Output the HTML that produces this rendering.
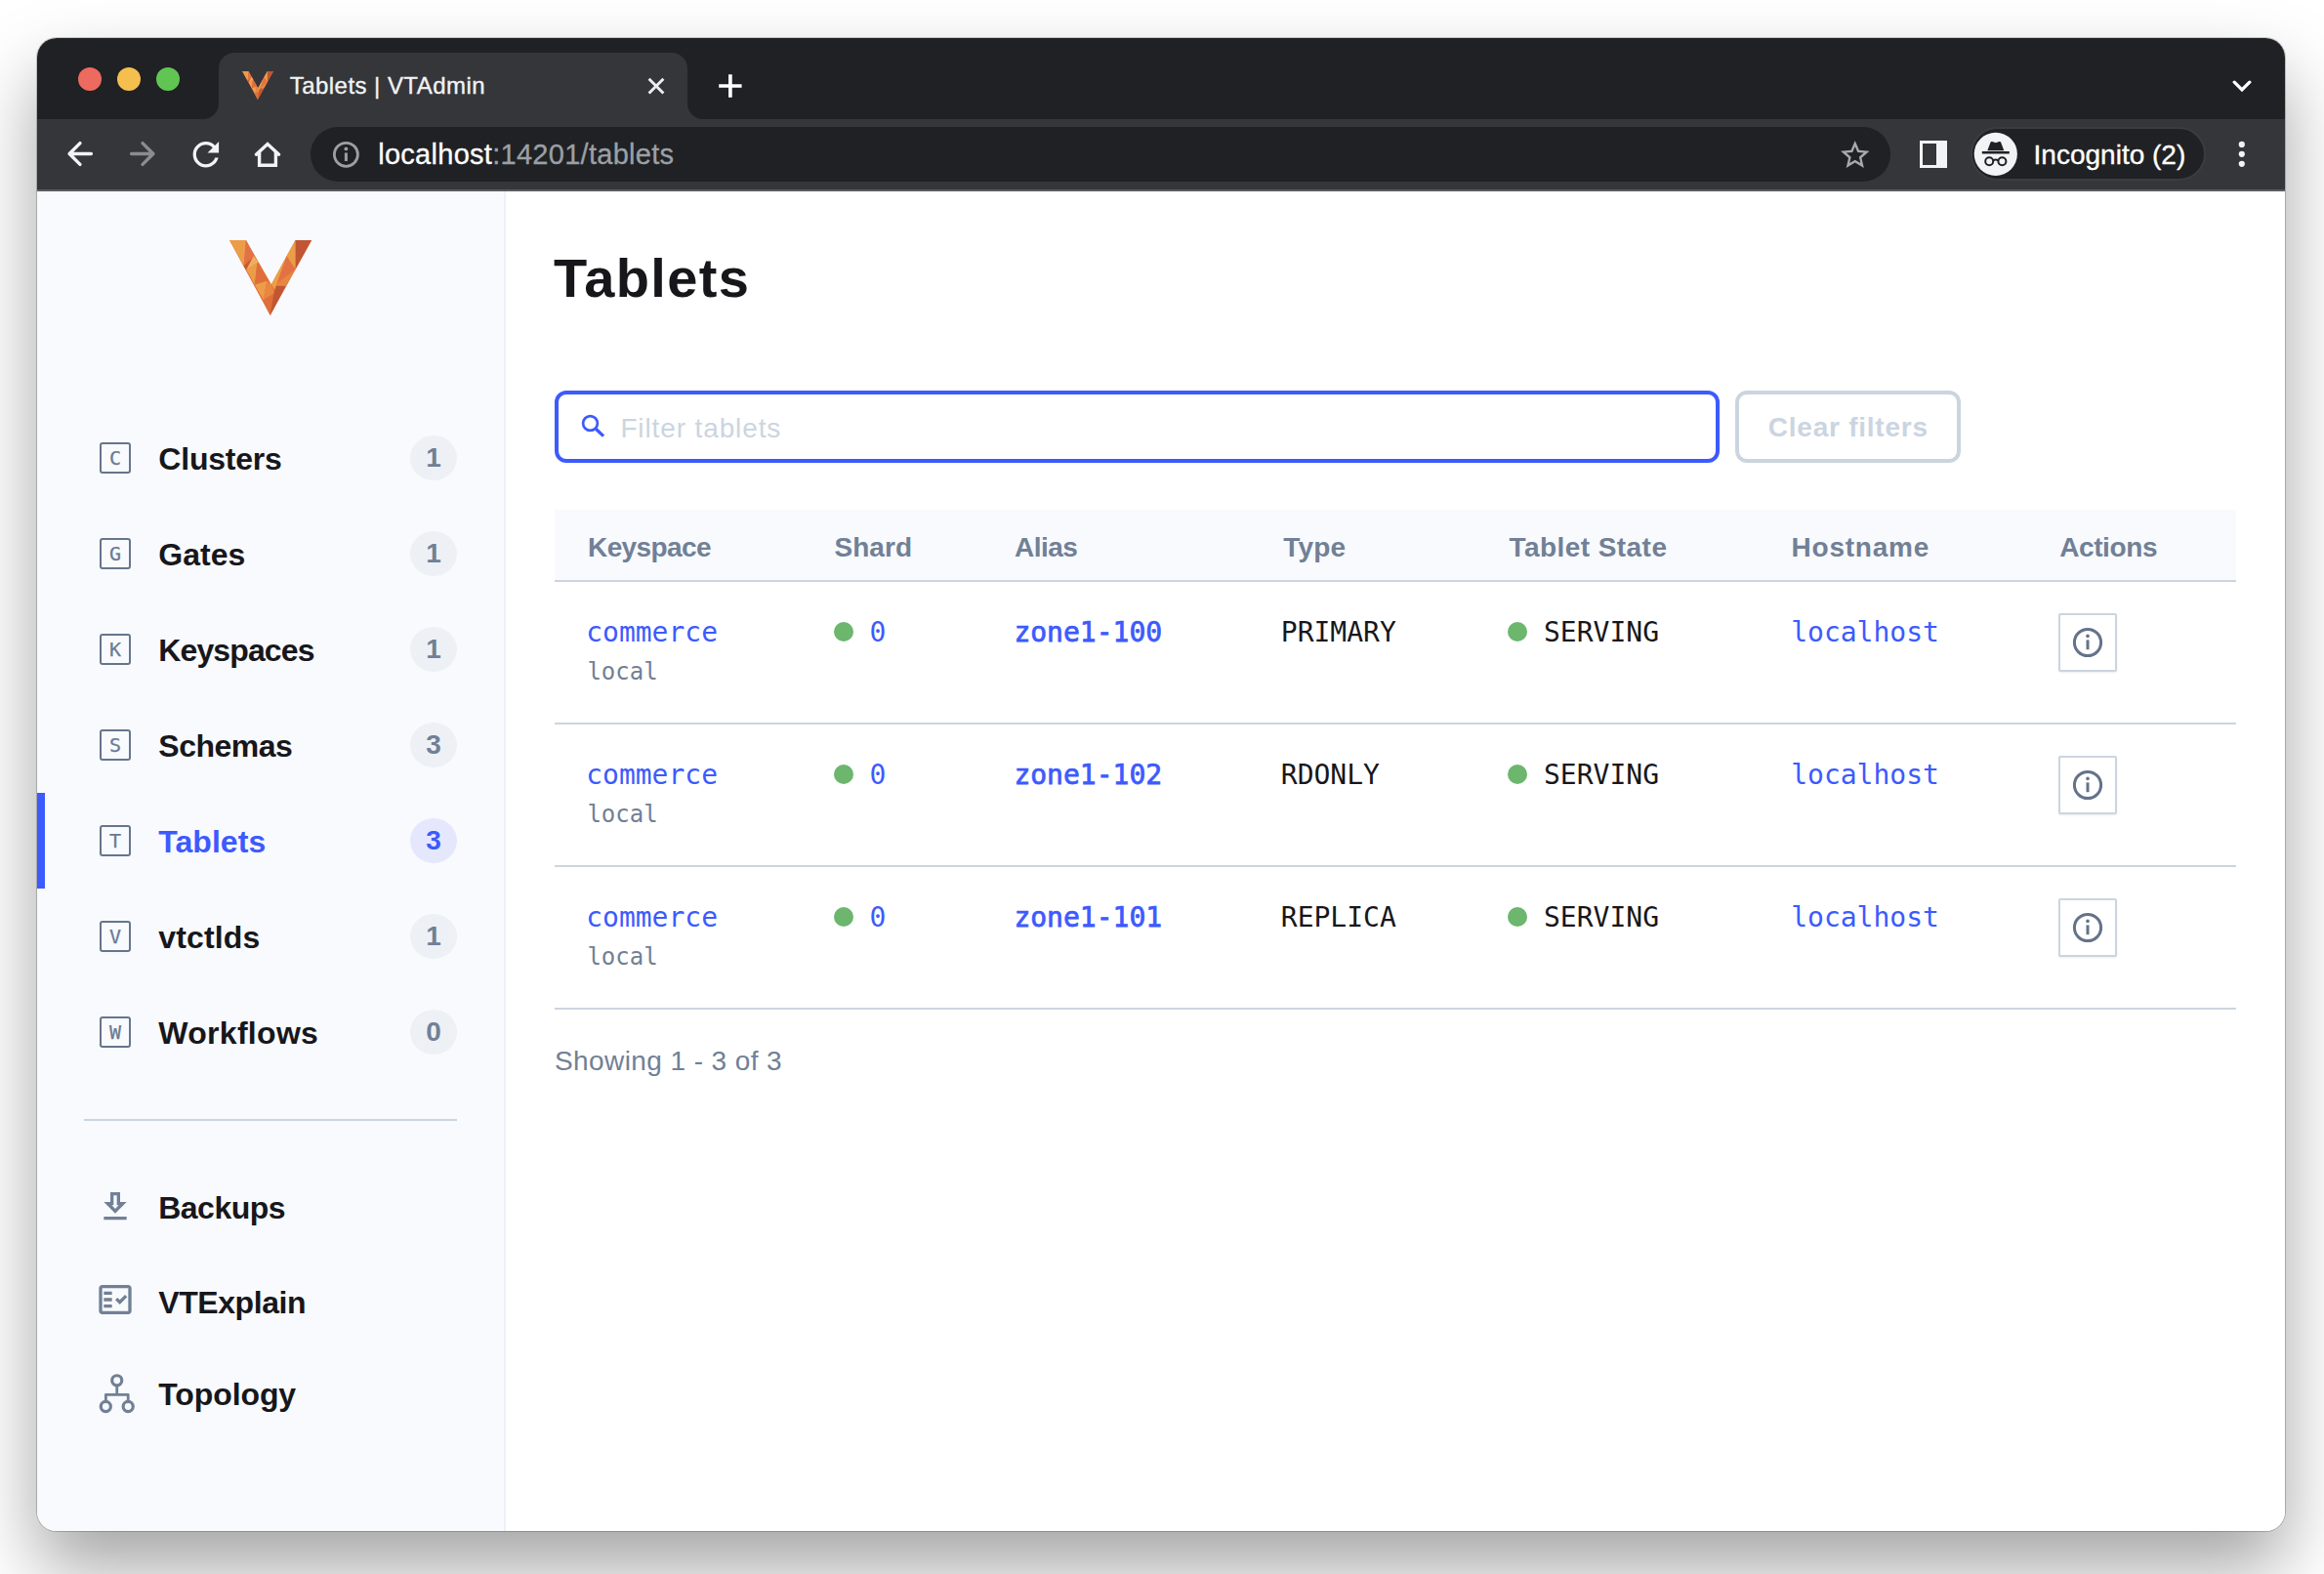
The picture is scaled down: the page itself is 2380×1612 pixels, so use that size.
<!DOCTYPE html>
<html lang="en">
<head>
<meta charset="utf-8">
<title>Tablets | VTAdmin</title>
<style>
*{box-sizing:border-box;margin:0;padding:0}
html,body{width:2380px;height:1612px;overflow:hidden;background:#fff}
body{position:relative;font-family:"Liberation Sans",sans-serif;color:#17171b}
.abs{position:absolute}
.t{position:absolute;white-space:nowrap;line-height:1}
#win{position:absolute;left:38px;top:39px;width:2302px;height:1529px;border-radius:20px;background:#fff;
  box-shadow:0 0 0 1px rgba(0,0,0,.2),0 38px 76px rgba(0,0,0,.36)}
#clip{position:absolute;left:0;top:0;width:2302px;height:1529px;border-radius:20px;overflow:hidden}
/* chrome */
#tabbar{position:absolute;left:0;top:0;width:2302px;height:83px;background:#202124}
#toolbar{position:absolute;left:0;top:83px;width:2302px;height:72px;background:#35363a}
#tbline{position:absolute;left:0;top:155px;width:2302px;height:2px;background:#5b5c60}
.light{position:absolute;top:30px;width:24px;height:24px;border-radius:50%}
#tab{position:absolute;left:186px;top:15px;width:480px;height:68px;background:#35363a;border-radius:16px 16px 0 0}
#tab:before,#tab:after{content:"";position:absolute;bottom:0;width:16px;height:16px}
#tab:before{left:-16px;background:radial-gradient(circle at 0 0,transparent 15.5px,#35363a 16.5px)}
#tab:after{right:-16px;background:radial-gradient(circle at 100% 0,transparent 15.5px,#35363a 16.5px)}
#omni{position:absolute;left:280px;top:91px;width:1618px;height:56px;border-radius:28px;background:#202124}
#chip{position:absolute;left:1980px;top:91px;width:241px;height:55px;border-radius:28px;background:#202124;border:2px solid #3b3c40}
.ib{width:32px;height:32px;border:2px solid #67758c;border-radius:3px;font-family:"DejaVu Sans Mono",monospace;font-size:20px;line-height:28px;text-align:center;color:#6b7a92;-webkit-text-stroke:0.25px #6b7a92}
.bd{width:48px;height:46px;border-radius:24px/23px;font-size:28px;font-weight:700;line-height:46px;text-align:center}
/* page */
#side{position:absolute;left:0;top:157px;width:478px;height:1372px;background:#f8fafd}
#sideb{position:absolute;left:478px;top:157px;width:2px;height:1372px;background:#edf1f6}
#main{position:absolute;left:480px;top:157px;width:1822px;height:1372px;background:#fff}
</style>
</head>
<body>
<div id="win"><div id="clip">
  <div id="tabbar"></div>
  <div id="toolbar"></div>
  <div id="tbline"></div>
  <div class="light" style="left:42px;background:#ed6a5e"></div>
  <div class="light" style="left:82px;background:#f5bf4f"></div>
  <div class="light" style="left:122px;background:#61c554"></div>
  <div id="tab"></div>
  <div id="omni"></div>
  <div id="chip"></div>
  <div id="side"></div>
  <div id="sideb"></div>
  <div id="main"></div>
<header>
<svg class="abs" style="left:209.80px;top:33.60px;" width="32.20" height="29.20" viewBox="0 0 1440 1318"><polygon points="0,0 290,0 733,773 1155,0 1440,0 713,1318" fill="#e06e3b"/><polygon points="0,0 290,0 250,448" fill="#ec9d48"/><polygon points="290,0 430,273 253,443" fill="#e27245"/><polygon points="250,448 405,308 290,523" fill="#c85a30"/><polygon points="430,273 505,388 295,518 405,308" fill="#efae62"/><polygon points="295,518 485,398 443,778" fill="#ec9d48"/><polygon points="485,398 670,708 443,773" fill="#e06e3b"/><polygon points="443,778 655,713 595,1048" fill="#ec9d48"/><polygon points="655,713 733,773 785,928 595,1048" fill="#e8873f"/><polygon points="590,1053 775,943 713,1318" fill="#e06e3b"/><polygon points="1155,0 1440,0 1155,508" fill="#c05633"/><polygon points="1155,0 1155,508 1000,278" fill="#ec9d48"/><polygon points="1000,278 1150,518 830,758" fill="#e27245"/><polygon points="1000,278 830,758 795,868 733,773" fill="#ee9f46"/><polygon points="1150,518 985,803 820,793 830,758" fill="#e8873f"/><polygon points="820,803 985,803 713,1318 775,943" fill="#c05633"/></svg>
<div class="t" style="left:258.8px;top:36.5px;font-size:24px;color:#f1f3f4;letter-spacing:0.45px;-webkit-text-stroke:0.35px #f1f3f4">Tablets | VTAdmin</div>
<svg class="abs" style="left:622.00px;top:37.00px;" width="24.00" height="24.00" viewBox="660 76 24 24"><path d="M664.6 80.7 L679.4 95.5 M679.4 80.7 L664.6 95.5" stroke="#eceef0" stroke-width="2.9" fill="none"/></svg>
<svg class="abs" style="left:694.00px;top:33.00px;" width="32.00" height="32.00" viewBox="732 72 32 32"><path d="M736.2 88 H759.6 M747.9 76.3 V99.7" stroke="#fff" stroke-width="3.7" fill="none"/></svg>
<svg class="abs" style="left:2242.00px;top:37.00px;" width="32.00" height="24.00" viewBox="2280 76 32 24"><path d="M2288.2 84.2 L2296 92 L2303.8 84.2" stroke="#fff" stroke-width="3.3" fill="none" stroke-linecap="round" stroke-linejoin="miter"/></svg>
<svg class="abs" style="left:22.00px;top:101.00px;" width="44.00" height="36.00" viewBox="60 140 44 36"><path d="M93.4 157.5 H71.5 M82 146.6 L71.1 157.5 L82 168.4" stroke="#f1f3f4" stroke-width="3.4" fill="none" stroke-linecap="round" stroke-linejoin="round"/></svg>
<svg class="abs" style="left:86.00px;top:101.00px;" width="44.00" height="36.00" viewBox="124 140 44 36"><path d="M134.6 157.5 H156.5 M146 146.6 L156.9 157.5 L146 168.4" stroke="#8b8c8f" stroke-width="3.4" fill="none" stroke-linecap="round" stroke-linejoin="round"/></svg>
<svg class="abs" style="left:158.80px;top:105.50px;overflow:visible" width="27.70" height="26.50" viewBox="4 4 16 16"><path fill="#f1f3f4" d="M17.65 6.35C16.2 4.9 14.21 4 12 4c-4.42 0-7.99 3.58-7.99 8s3.57 8 7.99 8c3.73 0 6.84-2.55 7.73-6h-2.08c-.82 2.33-3.04 4-5.65 4-3.31 0-6-2.69-6-6s2.69-6 6-6c1.66 0 3.14.69 4.22 1.78L13 11h7V4l-2.35 2.35z"/></svg>
<svg class="abs" style="left:218.00px;top:101.00px;" width="36.00" height="36.00" viewBox="256 140 36 36"><path d="M262.4 158.2 L274 147.5 L285.6 158.2" stroke="#f1f3f4" stroke-width="3.4" fill="none" stroke-linecap="round" stroke-linejoin="miter"/><path d="M265.6 156 V169.3 H282.4 V156" stroke="#f1f3f4" stroke-width="3.4" fill="none"/></svg>
<svg class="abs" style="left:300.00px;top:103.00px;" width="34.00" height="34.00" viewBox="338 142 34 34"><circle cx="354.4" cy="158.3" r="12" stroke="#9aa0a6" stroke-width="2.8" fill="none"/><circle cx="354.4" cy="152.4" r="1.9" fill="#9aa0a6"/><path d="M354.4 156.6 V165" stroke="#9aa0a6" stroke-width="3"/></svg>
<div class="t" style="left:349.2px;top:104.6px;font-size:29px;color:#9aa0a6;letter-spacing:0.28px;-webkit-text-stroke:0.3px"><span style="color:#fff">localhost</span>:14201/tablets</div>
<svg class="abs" style="left:1847.20px;top:104.60px;" width="29.50" height="28.00" viewBox="2 2 20 19"><path fill="#a8a9ac" d="M22 9.24l-7.19-.62L12 2 9.19 8.63 2 9.24l5.46 4.73L5.82 21 12 17.27 18.18 21l-1.63-7.03L22 9.24zM12 15.4l-3.76 2.27 1-4.28-3.32-2.88 4.38-.38L12 6.1l1.71 4.04 4.38.38-3.32 2.88 1 4.28L12 15.4z"/></svg>
<div class="abs" style="left:1928.0px;top:104.7px;width:28.2px;height:28.0px;border:3.5px solid #f1f3f4;border-right-width:11px"></div>
<svg class="abs" style="left:1983.00px;top:96.00px;" width="46.00" height="46.00" viewBox="2021 135 46 46"><circle cx="2043.8" cy="157.8" r="22.1" fill="#f1f3f4"/><path fill="#202124" d="M2035.3 154.2 L2038.6 145.6 Q2039 144.6 2040.2 145 L2043.8 146.2 L2047.4 145 Q2048.6 144.6 2049 145.6 L2052.3 154.2 Z"/><path d="M2029.8 156.2 H2057.8" stroke="#202124" stroke-width="2.4"/><circle cx="2037.2" cy="165.2" r="4" stroke="#202124" stroke-width="2" fill="none"/><circle cx="2050.4" cy="165.2" r="4" stroke="#202124" stroke-width="2" fill="none"/><path d="M2041.2 164.4 Q2043.8 162.6 2046.4 164.4" stroke="#202124" stroke-width="1.8" fill="none"/></svg>
<div class="t" style="left:2044.6px;top:105.8px;font-size:28px;color:#fff;-webkit-text-stroke:0.35px #fff">Incognito (2)</div>
<svg class="abs" style="left:2250.00px;top:101.00px;" width="16.00" height="36.00" viewBox="2288 140 16 36"><circle cx="2295.8" cy="147.9" r="3.1" fill="#f1f3f4"/><circle cx="2295.8" cy="157.8" r="3.1" fill="#f1f3f4"/><circle cx="2295.8" cy="167.8" r="3.1" fill="#f1f3f4"/></svg>
</header>
<nav>
<svg class="abs" style="left:196.90px;top:206.70px;" width="84.20" height="77.00" viewBox="0 0 1440 1318"><polygon points="0,0 290,0 733,773 1155,0 1440,0 713,1318" fill="#e06e3b"/><polygon points="0,0 290,0 250,448" fill="#ec9d48"/><polygon points="290,0 430,273 253,443" fill="#e27245"/><polygon points="250,448 405,308 290,523" fill="#c85a30"/><polygon points="430,273 505,388 295,518 405,308" fill="#efae62"/><polygon points="295,518 485,398 443,778" fill="#ec9d48"/><polygon points="485,398 670,708 443,773" fill="#e06e3b"/><polygon points="443,778 655,713 595,1048" fill="#ec9d48"/><polygon points="655,713 733,773 785,928 595,1048" fill="#e8873f"/><polygon points="590,1053 775,943 713,1318" fill="#e06e3b"/><polygon points="1155,0 1440,0 1155,508" fill="#c05633"/><polygon points="1155,0 1155,508 1000,278" fill="#ec9d48"/><polygon points="1000,278 1150,518 830,758" fill="#e27245"/><polygon points="1000,278 830,758 795,868 733,773" fill="#ee9f46"/><polygon points="1150,518 985,803 820,793 830,758" fill="#e8873f"/><polygon points="820,803 985,803 713,1318 775,943" fill="#c05633"/></svg>
<div class="abs ib" style="left:64px;top:414px">C</div>
<div class="t" style="left:124.3px;top:415.0px;font-size:32px;font-weight:700;color:#17171b;letter-spacing:-0.21px;">Clusters</div>
<div class="abs bd" style="left:382px;top:407px;background:#edf1f6;color:#718096">1</div>
<div class="abs ib" style="left:64px;top:512px">G</div>
<div class="t" style="left:124.3px;top:513.0px;font-size:32px;font-weight:700;color:#17171b;letter-spacing:0.02px;">Gates</div>
<div class="abs bd" style="left:382px;top:505px;background:#edf1f6;color:#718096">1</div>
<div class="abs ib" style="left:64px;top:610px">K</div>
<div class="t" style="left:124.3px;top:611.0px;font-size:32px;font-weight:700;color:#17171b;letter-spacing:-0.88px;">Keyspaces</div>
<div class="abs bd" style="left:382px;top:603px;background:#edf1f6;color:#718096">1</div>
<div class="abs ib" style="left:64px;top:708px">S</div>
<div class="t" style="left:124.3px;top:709.0px;font-size:32px;font-weight:700;color:#17171b;letter-spacing:-0.49px;">Schemas</div>
<div class="abs bd" style="left:382px;top:701px;background:#edf1f6;color:#718096">3</div>
<div class="abs" style="left:0.0px;top:773.0px;width:8.0px;height:98.0px;background:#3d5afe"></div>
<div class="abs ib" style="left:64px;top:806px">T</div>
<div class="t" style="left:124.3px;top:807.0px;font-size:32px;font-weight:700;color:#3d5afe;letter-spacing:0.04px;">Tablets</div>
<div class="abs bd" style="left:382px;top:799px;background:#e5e8fd;color:#3d5afe">3</div>
<div class="abs ib" style="left:64px;top:904px">V</div>
<div class="t" style="left:124.3px;top:905.0px;font-size:32px;font-weight:700;color:#17171b;letter-spacing:0.13px;">vtctlds</div>
<div class="abs bd" style="left:382px;top:897px;background:#edf1f6;color:#718096">1</div>
<div class="abs ib" style="left:64px;top:1002px">W</div>
<div class="t" style="left:124.3px;top:1003.0px;font-size:32px;font-weight:700;color:#17171b;letter-spacing:0.3px;">Workflows</div>
<div class="abs bd" style="left:382px;top:995px;background:#edf1f6;color:#718096">0</div>
<div class="abs" style="left:48.3px;top:1107.0px;width:381.4px;height:2.0px;background:#cbd5e0"></div>
<div class="t" style="left:124.2px;top:1182.2px;font-size:32px;font-weight:700;color:#17171b;letter-spacing:-0.5px;">Backups</div>
<div class="t" style="left:124.3px;top:1278.8px;font-size:32px;font-weight:700;color:#17171b;letter-spacing:-0.44px;">VTExplain</div>
<div class="t" style="left:124.3px;top:1373.4px;font-size:32px;font-weight:700;color:#17171b;letter-spacing:-0.11px;">Topology</div>
<svg class="abs" style="left:60.00px;top:1177.00px;" width="40.00" height="40.00" viewBox="0 0 24 24"><path fill="#718096" d="M19 9h-4V3H9v6H5l7 7 7-7zm-8 2V5h2v6h1.17L12 13.17 9.83 11H11zm-6 7h14v2H5v-2z"/></svg>
<svg class="abs" style="left:60.00px;top:1272.00px;" width="40.00" height="40.00" viewBox="0 0 24 24"><path fill="#718096" fill-rule="evenodd" d="M20 3H4c-1.1 0-2 .9-2 2v14c0 1.1.9 2 2 2h16c1.1 0 2-.9 2-2V5c0-1.1-.9-2-2-2zm0 16H4V5h16v14z"/><path fill="#718096" d="M19.41 10.42 17.99 9l-3.17 3.17-1.41-1.42L12 12.16 14.82 15zM5 7h5v2H5zm0 4h5v2H5zm0 4h5v2H5z"/></svg>
<svg class="abs" style="left:60.00px;top:1365.00px;" width="44.00" height="48.00" viewBox="98 1404 44 48"><circle cx="119.74" cy="1413.8" r="5.05" stroke="#718096" stroke-width="3.2" fill="none"/><circle cx="108.3" cy="1440.5" r="5.05" stroke="#718096" stroke-width="3.2" fill="none"/><circle cx="131.2" cy="1440.5" r="5.05" stroke="#718096" stroke-width="3.2" fill="none"/><path d="M119.74 1418.9 V1428.3 M108.4 1435.4 V1428.3 H131.2 V1435.4" stroke="#718096" stroke-width="2.8" fill="none" stroke-linejoin="round"/></svg>
</nav>
<main>
<div class="t" style="left:529.0px;top:218.2px;font-size:56px;font-weight:700;color:#17171b;letter-spacing:1.32px;">Tablets</div>
<div class="abs" style="left:530.0px;top:361.0px;width:1193.0px;height:74.0px;border:4px solid #3d5afe;border-radius:12px;background:#fff"></div>
<svg class="abs" style="left:554.00px;top:381.00px;" width="32.00" height="32.00" viewBox="592 420 32 32"><circle cx="604.5" cy="433.5" r="7.4" stroke="#3d5afe" stroke-width="2.7" fill="none"/><path d="M610.2 439.2 L618 446.6" stroke="#3d5afe" stroke-width="3.3"/></svg>
<div class="t" style="left:597.4px;top:386.0px;font-size:28px;color:#cbd5e0;letter-spacing:0.88px;">Filter tablets</div>
<div class="abs" style="left:1739.0px;top:361.0px;width:230.5px;height:74.0px;border:4px solid #cbd5e0;border-radius:12px;background:#fff"></div>
<div class="t" style="left:1772.8px;top:384.9px;font-size:28px;font-weight:700;color:#cbd5e0;letter-spacing:0.76px;">Clear filters</div>
<div class="abs" style="left:530.0px;top:483.0px;width:1722.0px;height:72.4px;background:#f8fafd"></div>
<div class="abs" style="left:530.0px;top:555.2px;width:1722.0px;height:1.8px;background:#cbd5e0"></div>
<div class="t" style="left:564.0px;top:507.5px;font-size:28px;font-weight:700;color:#718096;letter-spacing:-0.59px;">Keyspace</div>
<div class="t" style="left:816.4px;top:507.5px;font-size:28px;font-weight:700;color:#718096;letter-spacing:0.06px;">Shard</div>
<div class="t" style="left:1001.0px;top:507.5px;font-size:28px;font-weight:700;color:#718096;letter-spacing:-0.53px;">Alias</div>
<div class="t" style="left:1276.2px;top:507.5px;font-size:28px;font-weight:700;color:#718096;letter-spacing:0.24px;">Type</div>
<div class="t" style="left:1507.6px;top:507.5px;font-size:28px;font-weight:700;color:#718096;letter-spacing:0.43px;">Tablet State</div>
<div class="t" style="left:1796.6px;top:507.5px;font-size:28px;font-weight:700;color:#718096;letter-spacing:0.75px;">Hostname</div>
<div class="t" style="left:2071.2px;top:507.5px;font-size:28px;font-weight:700;color:#718096;letter-spacing:-0.4px;">Actions</div>
<div class="t" style="left:562.2px;top:594.5px;font-size:28px;color:#3d5afe;font-family:'DejaVu Sans Mono','Liberation Mono',monospace;">commerce</div>
<div class="t" style="left:563.4px;top:637.1px;font-size:24px;color:#718096;font-family:'DejaVu Sans Mono','Liberation Mono',monospace;">local</div>
<div class="abs" style="left:815.7px;top:597.8px;width:20.5px;height:20.5px;border-radius:50%;background:#6cb66e"></div>
<div class="t" style="left:852.4px;top:594.5px;font-size:28px;color:#3d5afe;font-family:'DejaVu Sans Mono','Liberation Mono',monospace;">0</div>
<div class="t" style="left:1000.4px;top:594.5px;font-size:28px;color:#3d5afe;font-family:'DejaVu Sans Mono','Liberation Mono',monospace;-webkit-text-stroke:0.75px #3d5afe">zone1-100</div>
<div class="t" style="left:1273.8px;top:594.5px;font-size:28px;color:#17171b;font-family:'DejaVu Sans Mono','Liberation Mono',monospace;">PRIMARY</div>
<div class="abs" style="left:1505.6px;top:597.8px;width:20.5px;height:20.5px;border-radius:50%;background:#6cb66e"></div>
<div class="t" style="left:1543.0px;top:594.5px;font-size:28px;color:#17171b;font-family:'DejaVu Sans Mono','Liberation Mono',monospace;">SERVING</div>
<div class="t" style="left:1796.2px;top:594.5px;font-size:28px;color:#3d5afe;font-family:'DejaVu Sans Mono','Liberation Mono',monospace;">localhost</div>
<div class="abs" style="left:2070.0px;top:589.3px;width:60.0px;height:59.6px;border:2px solid #cbd5e0;border-radius:2px;background:#fff;box-shadow:0 1px 2px rgba(0,0,0,.08)"></div>
<svg class="abs" style="left:2082.00px;top:601.10px;" width="36.00" height="36.00" viewBox="2120 640.1 36 36"><circle cx="2138" cy="658.1" r="13.6" stroke="#64728a" stroke-width="3" fill="none"/><circle cx="2138" cy="651.5" r="1.8" fill="#64728a"/><path d="M2138 655.5 V665.3000000000001" stroke="#64728a" stroke-width="3"/></svg>
<div class="abs" style="left:530.0px;top:701.2px;width:1722.0px;height:1.8px;background:#cbd5e0"></div>
<div class="t" style="left:562.2px;top:740.5px;font-size:28px;color:#3d5afe;font-family:'DejaVu Sans Mono','Liberation Mono',monospace;">commerce</div>
<div class="t" style="left:563.4px;top:783.1px;font-size:24px;color:#718096;font-family:'DejaVu Sans Mono','Liberation Mono',monospace;">local</div>
<div class="abs" style="left:815.7px;top:743.8px;width:20.5px;height:20.5px;border-radius:50%;background:#6cb66e"></div>
<div class="t" style="left:852.4px;top:740.5px;font-size:28px;color:#3d5afe;font-family:'DejaVu Sans Mono','Liberation Mono',monospace;">0</div>
<div class="t" style="left:1000.4px;top:740.5px;font-size:28px;color:#3d5afe;font-family:'DejaVu Sans Mono','Liberation Mono',monospace;-webkit-text-stroke:0.75px #3d5afe">zone1-102</div>
<div class="t" style="left:1273.8px;top:740.5px;font-size:28px;color:#17171b;font-family:'DejaVu Sans Mono','Liberation Mono',monospace;">RDONLY</div>
<div class="abs" style="left:1505.6px;top:743.8px;width:20.5px;height:20.5px;border-radius:50%;background:#6cb66e"></div>
<div class="t" style="left:1543.0px;top:740.5px;font-size:28px;color:#17171b;font-family:'DejaVu Sans Mono','Liberation Mono',monospace;">SERVING</div>
<div class="t" style="left:1796.2px;top:740.5px;font-size:28px;color:#3d5afe;font-family:'DejaVu Sans Mono','Liberation Mono',monospace;">localhost</div>
<div class="abs" style="left:2070.0px;top:735.3px;width:60.0px;height:59.6px;border:2px solid #cbd5e0;border-radius:2px;background:#fff;box-shadow:0 1px 2px rgba(0,0,0,.08)"></div>
<svg class="abs" style="left:2082.00px;top:747.10px;" width="36.00" height="36.00" viewBox="2120 786.1 36 36"><circle cx="2138" cy="804.1" r="13.6" stroke="#64728a" stroke-width="3" fill="none"/><circle cx="2138" cy="797.5" r="1.8" fill="#64728a"/><path d="M2138 801.5 V811.3000000000001" stroke="#64728a" stroke-width="3"/></svg>
<div class="abs" style="left:530.0px;top:847.2px;width:1722.0px;height:1.8px;background:#cbd5e0"></div>
<div class="t" style="left:562.2px;top:886.5px;font-size:28px;color:#3d5afe;font-family:'DejaVu Sans Mono','Liberation Mono',monospace;">commerce</div>
<div class="t" style="left:563.4px;top:929.1px;font-size:24px;color:#718096;font-family:'DejaVu Sans Mono','Liberation Mono',monospace;">local</div>
<div class="abs" style="left:815.7px;top:889.8px;width:20.5px;height:20.5px;border-radius:50%;background:#6cb66e"></div>
<div class="t" style="left:852.4px;top:886.5px;font-size:28px;color:#3d5afe;font-family:'DejaVu Sans Mono','Liberation Mono',monospace;">0</div>
<div class="t" style="left:1000.4px;top:886.5px;font-size:28px;color:#3d5afe;font-family:'DejaVu Sans Mono','Liberation Mono',monospace;-webkit-text-stroke:0.75px #3d5afe">zone1-101</div>
<div class="t" style="left:1273.8px;top:886.5px;font-size:28px;color:#17171b;font-family:'DejaVu Sans Mono','Liberation Mono',monospace;">REPLICA</div>
<div class="abs" style="left:1505.6px;top:889.8px;width:20.5px;height:20.5px;border-radius:50%;background:#6cb66e"></div>
<div class="t" style="left:1543.0px;top:886.5px;font-size:28px;color:#17171b;font-family:'DejaVu Sans Mono','Liberation Mono',monospace;">SERVING</div>
<div class="t" style="left:1796.2px;top:886.5px;font-size:28px;color:#3d5afe;font-family:'DejaVu Sans Mono','Liberation Mono',monospace;">localhost</div>
<div class="abs" style="left:2070.0px;top:881.3px;width:60.0px;height:59.6px;border:2px solid #cbd5e0;border-radius:2px;background:#fff;box-shadow:0 1px 2px rgba(0,0,0,.08)"></div>
<svg class="abs" style="left:2082.00px;top:893.10px;" width="36.00" height="36.00" viewBox="2120 932.1 36 36"><circle cx="2138" cy="950.1" r="13.6" stroke="#64728a" stroke-width="3" fill="none"/><circle cx="2138" cy="943.5" r="1.8" fill="#64728a"/><path d="M2138 947.5 V957.3000000000001" stroke="#64728a" stroke-width="3"/></svg>
<div class="abs" style="left:530.0px;top:993.2px;width:1722.0px;height:1.8px;background:#cbd5e0"></div>
<div class="t" style="left:530.0px;top:1033.5px;font-size:28px;color:#718096;letter-spacing:0.41px;">Showing 1 - 3 of 3</div>
</main>
</div></div>
</body>
</html>
